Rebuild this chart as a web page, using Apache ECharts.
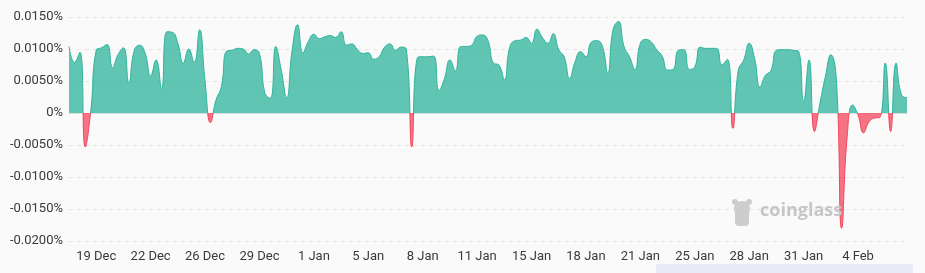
<!DOCTYPE html>
<html>
<head>
<meta charset="utf-8">
<script src="https://cdn.jsdelivr.net/npm/echarts@6/dist/echarts.min.js"></script>
<style>
html,body{margin:0;padding:0;background:#fafafa;}
#chart{width:925px;height:273px;}
</style>
</head>
<body>
<div id="chart"></div>
<script>
// 8-hour funding periods
const categories = [
'17 Dec 16:00',
'18 Dec 00:00','18 Dec 08:00','18 Dec 16:00',
'19 Dec 00:00','19 Dec 08:00','19 Dec 16:00',
'20 Dec 00:00','20 Dec 08:00','20 Dec 16:00',
'21 Dec 00:00','21 Dec 08:00','21 Dec 16:00',
'22 Dec 00:00','22 Dec 08:00','22 Dec 16:00',
'23 Dec 00:00','23 Dec 08:00','23 Dec 16:00',
'24 Dec 00:00','24 Dec 08:00','24 Dec 16:00',
'25 Dec 00:00','25 Dec 08:00','25 Dec 16:00',
'26 Dec 00:00','26 Dec 08:00','26 Dec 16:00',
'27 Dec 00:00','27 Dec 08:00','27 Dec 16:00',
'28 Dec 00:00','28 Dec 08:00','28 Dec 16:00',
'29 Dec 00:00','29 Dec 08:00','29 Dec 16:00',
'30 Dec 00:00','30 Dec 08:00','30 Dec 16:00',
'31 Dec 00:00','31 Dec 08:00','31 Dec 16:00',
'1 Jan 00:00','1 Jan 08:00','1 Jan 16:00',
'2 Jan 00:00','2 Jan 08:00','2 Jan 16:00',
'3 Jan 00:00','3 Jan 08:00','3 Jan 16:00',
'4 Jan 00:00','4 Jan 08:00','4 Jan 16:00',
'5 Jan 00:00','5 Jan 08:00','5 Jan 16:00',
'6 Jan 00:00','6 Jan 08:00','6 Jan 16:00',
'7 Jan 00:00','7 Jan 08:00','7 Jan 16:00',
'8 Jan 00:00','8 Jan 08:00','8 Jan 16:00',
'9 Jan 00:00','9 Jan 08:00','9 Jan 16:00',
'10 Jan 00:00','10 Jan 08:00','10 Jan 16:00',
'11 Jan 00:00','11 Jan 08:00','11 Jan 16:00',
'12 Jan 00:00','12 Jan 08:00','12 Jan 16:00',
'13 Jan 00:00','13 Jan 08:00','13 Jan 16:00',
'14 Jan 00:00','14 Jan 08:00','14 Jan 16:00',
'15 Jan 00:00','15 Jan 08:00','15 Jan 16:00',
'16 Jan 00:00','16 Jan 08:00','16 Jan 16:00',
'17 Jan 00:00','17 Jan 08:00','17 Jan 16:00',
'18 Jan 00:00','18 Jan 08:00','18 Jan 16:00',
'19 Jan 00:00','19 Jan 08:00','19 Jan 16:00',
'20 Jan 00:00','20 Jan 08:00','20 Jan 16:00',
'21 Jan 00:00','21 Jan 08:00','21 Jan 16:00',
'22 Jan 00:00','22 Jan 08:00','22 Jan 16:00',
'23 Jan 00:00','23 Jan 08:00','23 Jan 16:00',
'24 Jan 00:00','24 Jan 08:00','24 Jan 16:00',
'25 Jan 00:00','25 Jan 08:00','25 Jan 16:00',
'26 Jan 00:00','26 Jan 08:00','26 Jan 16:00',
'27 Jan 00:00','27 Jan 08:00','27 Jan 16:00',
'28 Jan 00:00','28 Jan 08:00','28 Jan 16:00',
'29 Jan 00:00','29 Jan 08:00','29 Jan 16:00',
'30 Jan 00:00','30 Jan 08:00','30 Jan 16:00',
'31 Jan 00:00','31 Jan 08:00','31 Jan 16:00',
'1 Feb 00:00','1 Feb 08:00','1 Feb 16:00',
'2 Feb 00:00','2 Feb 08:00','2 Feb 16:00',
'3 Feb 00:00','3 Feb 08:00','3 Feb 16:00',
'4 Feb 00:00','4 Feb 08:00','4 Feb 16:00',
'5 Feb 00:00','5 Feb 08:00','5 Feb 16:00',
'6 Feb 00:00','6 Feb 08:00','6 Feb 16:00',
'7 Feb 00:00'
];

// funding rate, in percent
const fundingRate = [
0.0104,0.0079,0.0095,-0.0053,0.0003,0.0098,0.0102,0.0107,0.0071,0.0091,
0.0102,0.0047,0.0098,0.0106,0.0093,0.0058,0.0083,0.0038,0.0127,0.0126,
0.0109,0.0078,0.0100,0.0079,0.0130,0.0050,-0.0015,0.0020,0.0041,0.0097,
0.0098,0.0101,0.0100,0.0092,0.0099,0.0093,0.0031,0.0023,0.0104,0.0067,
0.0024,0.0098,0.0138,0.0094,0.0112,0.0123,0.0116,0.0119,0.0121,0.0118,
0.0127,0.0106,0.0108,0.0099,0.0093,0.0094,0.0084,0.0088,0.0103,0.0108,
0.0098,0.0103,0.0099,-0.0053,0.0086,0.0088,0.0088,0.0089,0.0035,0.0054,
0.0083,0.0066,0.0104,0.0104,0.0106,0.0120,0.0122,0.0113,0.0078,0.0075,
0.0052,0.0103,0.0113,0.0114,0.0118,0.0109,0.0131,0.0118,0.0109,0.0124,
0.0099,0.0088,0.0054,0.0080,0.0096,0.0088,0.0111,0.0113,0.0105,0.0063,
0.0131,0.0143,0.0104,0.0088,0.0068,0.0109,0.0115,0.0111,0.0099,0.0089,
0.0067,0.0068,0.0098,0.0099,0.0068,0.0072,0.0103,0.0101,0.0101,0.0101,
0.0075,0.0084,-0.0024,0.0067,0.0083,0.0109,0.0085,0.0041,0.0059,0.0066,
0.0098,0.0099,0.0099,0.0098,0.0097,0.0018,0.0083,-0.0029,0.0015,0.0057,
0.0091,0.0055,-0.0180,-0.0037,0.00125,-0.0003,-0.0031,-0.0014,-0.0008,-0.0007,
0.0078,-0.0029,0.0078,0.0028,0.0024
];

const yTicks = [-0.02, -0.015, -0.01, -0.005, 0, 0.005, 0.01, 0.015];

const GREEN = '#2db39a';
const RED = '#f4455c';
const GRID = {left: 69, right: 18, top: 17, bottom: 32};

const yMin = yTicks[0], yMax = yTicks[yTicks.length - 1];
const zeroOffset = yMax / (yMax - yMin);
const plotTop = GRID.top, plotBottom = 273 - GRID.bottom;
function splitGradient() {
  return new echarts.graphic.LinearGradient(0, plotTop, 0, plotBottom, [
    {offset: 0, color: GREEN},
    {offset: zeroOffset, color: GREEN},
    {offset: zeroOffset, color: RED},
    {offset: 1, color: RED}
  ], true);
}

const chart = echarts.init(document.getElementById('chart'), null, {renderer: 'canvas'});
chart.setOption({
  backgroundColor: '#fafafa',
  animation: false,
  grid: GRID,
  xAxis: [{
    type: 'category',
    data: categories,
    boundaryGap: false,
    position: 'bottom',
    axisLine: {show: false, onZero: false},
    axisTick: {show: false},
    splitLine: {show: false},
    axisLabel: {
      interval: function (idx) { return idx % 10 === 5; },
      formatter: function (v) { return v.split(' ').slice(0, 2).join(' '); },
      color: '#3a3a3a',
      fontFamily: 'Roboto',
      fontSize: 13,
      margin: 9
    }
  }, {
    type: 'category',
    data: categories,
    boundaryGap: false,
    axisLine: {show: true, onZero: true, lineStyle: {color: '#dcdcdc', width: 1}},
    axisTick: {show: false},
    axisLabel: {show: false},
    splitLine: {show: false}
  }],
  yAxis: {
    type: 'value',
    min: yMin,
    max: yMax,
    interval: 0.005,
    axisLine: {show: false},
    axisTick: {show: false},
    splitLine: {lineStyle: {color: '#e4e4e4', type: [4, 4], width: 1}},
    axisLabel: {
      formatter: function (v) { return Math.abs(v) < 1e-12 ? '0%' : v.toFixed(4) + '%'; },
      color: '#3a3a3a',
      fontFamily: 'Roboto',
      fontSize: 13,
      margin: 6
    }
  },
  series: [{
    type: 'line',
    xAxisIndex: 0,
    data: fundingRate,
    smooth: 0.5,
    symbol: 'none',
    lineStyle: {width: 1, color: splitGradient()},
    areaStyle: {color: splitGradient(), opacity: 0.75},
    z: 2
  }],
  graphic: [
    {type: 'rect', left: 656, top: 264, shape: {width: 257, height: 9}, style: {fill: '#e9ecf8'}, silent: true},
    {type: 'circle', shape: {cx: 742, cy: 209, r: 8}, style: {fill: '#cdcdcd'}, silent: true, z: 10},
    {type: 'rect', shape: {x: 735, y: 209, width: 14, height: 17, r: 4}, style: {fill: '#cdcdcd'}, silent: true, z: 10},
    {type: 'circle', shape: {cx: 735, cy: 202, r: 3}, style: {fill: '#cdcdcd'}, silent: true, z: 10},
    {type: 'circle', shape: {cx: 749, cy: 202, r: 3}, style: {fill: '#cdcdcd'}, silent: true, z: 10},
    {type: 'text', left: 760, top: 202, style: {text: 'coinglass', fill: '#c6c6c6', font: 'bold 18px "Open Sans", Roboto, sans-serif'}, silent: true, z: 10}
  ]
});
</script>
</body>
</html>
